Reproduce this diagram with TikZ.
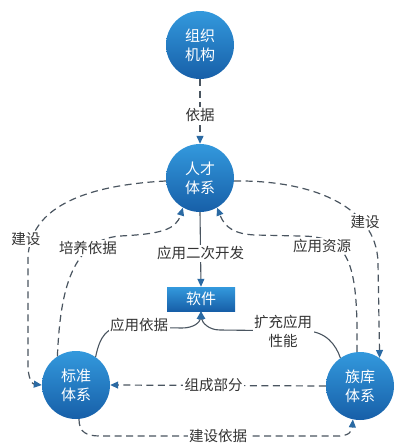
\documentclass[tikz,border=0pt]{standalone}
\usepackage{fontspec}
\setmainfont{Noto Sans CJK SC}
\usetikzlibrary{arrows.meta}
\definecolor{ctop}{HTML}{3399DD}
\definecolor{cbot}{HTML}{175FA8}
\definecolor{lc}{HTML}{4A5560}
\definecolor{ac}{HTML}{2B6AA3}
\definecolor{tc}{HTML}{333333}
\begin{document}
\begin{tikzpicture}[x=1pt,y=-1pt,
  circ/.style={circle, minimum size=68pt, inner sep=0pt, top color=ctop, bottom color=cbot, text=white, align=center, font=\fontsize{15}{19}\selectfont},
  softbox/.style={rectangle, minimum width=68pt, minimum height=24pt, inner sep=0pt, top color=ctop, bottom color=cbot, text=white, font=\fontsize{15}{17}\selectfont},
  lbl/.style={fill=white, text=tc, inner sep=1.5pt, align=center, font=\fontsize{14.5}{18}\selectfont},
  tip/.style={-{Triangle[length=8pt,width=7pt,color=ac]}},
  dl/.style={tip, draw=lc, line width=1.2pt, dash pattern=on 7pt off 4.5pt},
  sl/.style={tip, draw=lc, line width=1.1pt}
]
\useasboundingbox (0,0) rectangle (400,445);

\node[circ] (zz) at (200,45) {组织\\机构};
\node[circ] (rc) at (200,178) {人才\\体系};
\node[softbox] (rj) at (201,299) {软件};
\node[circ] (bz) at (76,385) {标准\\体系};
\node[circ] (zk) at (360,386) {族库\\体系};

% 依据
\draw[dl] (zz.south) -- (rc.north) node[lbl, pos=0.55] {依据};
% 应用二次开发
\draw[sl] (rc.south) -- (rj.north) node[lbl, pos=0.55] {应用二次开发};
% 组成部分
\draw[dl] (zk.west) -- (bz.east) node[lbl, pos=0.52] {组成部分};

% left 建设
\draw[dl] (rc.185) .. controls (90,185) and (28,205) .. (28,260) -- (28,365) .. controls (28,378) and (32,384) .. (bz.180);
\node[lbl] at (26,239) {建设};

% 培养依据
\draw[dl] (bz.123) .. controls (60,300) and (68,240) .. (120,236) .. controls (160,234) and (176,230) .. (rc.240);
\node[lbl] at (88,248) {培养依据};

% right 建设
\draw[dl] (rc.355) .. controls (310,180) and (376,205) .. (378,262) -- (zk.55);
\node[lbl] at (365,222) {建设};

% 应用资源
\draw[dl] (zk.95) .. controls (358,262) and (350,236) .. (300,236) -- (255,235) .. controls (235,234) and (225,228) .. (rc.300);
\node[lbl] at (322,246) {应用资源};

% 应用依据
\draw[sl] (bz.55) .. controls (100,335) and (108,327) .. (122,327) -- (182,328) .. controls (194,328) and (200,322) .. (rj.south);
\node[lbl] at (139,325) {应用依据};

% 扩充应用性能
\draw[sl] (zk.125) .. controls (336,345) and (326,331) .. (305,331) -- (220,330) .. controls (208,330) and (202,322) .. (rj.south);
\node[lbl, font=\fontsize{14.5}{19}\selectfont] at (283,331) {扩充应用\\性能};

% 建设依据
\draw[dl] (bz.275) .. controls (79,432) and (86,436) .. (100,436) -- (338,436) .. controls (348,436) and (352,432) .. (zk.258);
\node[lbl] at (218,436) {建设依据};
\end{tikzpicture}
\end{document}
